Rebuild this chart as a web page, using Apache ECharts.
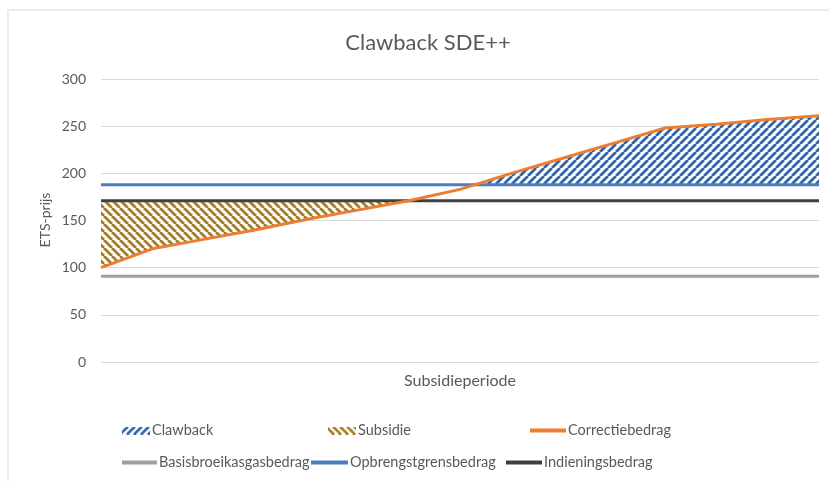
<!DOCTYPE html>
<html>
<head>
<meta charset="utf-8">
<title>Clawback SDE++</title>
<script src="https://cdn.jsdelivr.net/npm/echarts@6/dist/echarts.min.js"></script>
<style>
  html, body { margin: 0; padding: 0; background: #fff; }
  #chart { width: 829px; height: 481px; }
</style>
</head>
<body>
<div id="chart"></div>
<script>
// jaren in de subsidieperiode (x-as heeft geen labels)
var periode = [0, 1, 2, 3, 4, 5, 6, 7, 8, 9, 10, 11, 12, 13, 14];
// ETS-prijs per jaar
var correctiebedrag = [100, 120, 130, 140, 151, 161, 171, 183, 200, 216, 232, 248, 252, 257, 261];
var basisbroeikasgasbedrag = [91, 91, 91, 91, 91, 91, 91, 91, 91, 91, 91, 91, 91, 91, 91];
var opbrengstgrensbedrag = [188, 188, 188, 188, 188, 188, 188, 188, 188, 188, 188, 188, 188, 188, 188];
var indieningsbedrag = [171, 171, 171, 171, 171, 171, 171, 171, 171, 171, 171, 171, 171, 171, 171];
var yTicks = [0, 50, 100, 150, 200, 250, 300];

var FONT = 'Lato';
var GREY_TEXT = '#595959';

// arcering voor legenda-icoon: '/' of '\'
function hatch(color, up, w, h) {
  var c = document.createElement('canvas');
  c.width = w;
  c.height = h;
  var ctx = c.getContext('2d');
  ctx.fillStyle = '#fff';
  ctx.fillRect(0, 0, w, h);
  ctx.strokeStyle = color;
  ctx.lineWidth = 2.6;
  ctx.beginPath();
  for (var k = -16; k <= w + 16; k += 7) {
    if (up) { ctx.moveTo(k, h); ctx.lineTo(k + h, 0); }
    else { ctx.moveTo(k, 0); ctx.lineTo(k + h, h); }
  }
  ctx.stroke();
  return c;
}

// herhalend tegeltje voor de vlakken
function tile(color, up) {
  var c = document.createElement('canvas');
  c.width = 8; c.height = 8;
  var ctx = c.getContext('2d');
  ctx.fillStyle = '#fff';
  ctx.fillRect(0, 0, 8, 8);
  ctx.strokeStyle = color;
  ctx.lineWidth = 2.8;
  ctx.beginPath();
  for (var k = -8; k <= 8; k += 8) {
    if (up) { ctx.moveTo(k, 8); ctx.lineTo(k + 8, 0); }
    else { ctx.moveTo(k, 0); ctx.lineTo(k + 8, 8); }
  }
  ctx.stroke();
  return c;
}

var blueHatch = tile('#2F64A8', true);
var goldHatch = tile('#A67C22', false);
var blueIcon = hatch('#2F64A8', true, 28, 8).toDataURL();
var goldIcon = hatch('#A67C22', false, 28, 8).toDataURL();

// vlak tussen boven- en onderlijn, alleen waar boven > onder
function areaBetween(upper, lower, api) {
  var top = [], bot = [];
  for (var i = 0; i < periode.length; i++) {
    var d0 = upper[i] - lower[i];
    if (d0 >= 0) {
      top.push(api.coord([periode[i], upper[i]]));
      bot.push(api.coord([periode[i], lower[i]]));
    }
    if (i < periode.length - 1) {
      var d1 = upper[i + 1] - lower[i + 1];
      if ((d0 > 0 && d1 < 0) || (d0 < 0 && d1 > 0)) {
        var t = d0 / (d0 - d1);
        var x = periode[i] + t * (periode[i + 1] - periode[i]);
        var y = lower[i] + t * (lower[i + 1] - lower[i]);
        var p = api.coord([x, y]);
        top.push(p);
        bot.push(p);
      }
    }
  }
  return top.concat(bot.reverse());
}

function pairs(arr) {
  return arr.map(function (v, i) { return [periode[i], v]; });
}

var chart = echarts.init(document.getElementById('chart'));

function lineSerie(name, data, color, z) {
  return {
    name: name,
    type: 'line',
    data: pairs(data),
    showSymbol: false,
    symbol: 'none',
    z: z,
    lineStyle: { color: color, width: 3 },
    itemStyle: { color: color },
    emphasis: { disabled: true },
    animation: false
  };
}

function legendItem(name, left, top, icon, w, h) {
  return {
    data: [name],
    left: left,
    top: top,
    padding: 0,
    icon: icon,
    itemWidth: w,
    itemHeight: h,
    itemGap: 0,
    selectedMode: false,
    textStyle: { fontFamily: FONT, fontSize: 14.5, color: GREY_TEXT, padding: [0, 0, 0, -3] }
  };
}

var option = {
  backgroundColor: '#fff',
  animation: false,
  title: {
    text: 'Clawback SDE++',
    left: 423,
    top: 27,
    textAlign: 'center',
    textStyle: { fontFamily: FONT, fontSize: 22, fontWeight: 'normal', color: GREY_TEXT }
  },
  graphic: [{
    type: 'rect',
    shape: { x: 8, y: 10, width: 840, height: 490 },
    style: { fill: 'none', stroke: '#d9d9d9', lineWidth: 1 },
    silent: true
  }, {
    // titel y-as
    type: 'text',
    x: 45,
    y: 220,
    rotation: Math.PI / 2,
    style: {
      text: 'ETS-prijs',
      fontFamily: FONT,
      fontSize: 14,
      fill: GREY_TEXT,
      align: 'center',
      verticalAlign: 'middle'
    },
    silent: true
  }],
  legend: [
    legendItem('Clawback', 122, 423, 'image://' + blueIcon, 28, 8),
    legendItem('Subsidie', 328, 423, 'image://' + goldIcon, 28, 8),
    legendItem('Correctiebedrag', 530, 423, 'rect', 36, 4),
    legendItem('Basisbroeikasgasbedrag', 122, 455, 'rect', 35, 4),
    legendItem('Opbrengstgrensbedrag', 311, 455, 'rect', 37, 4),
    legendItem('Indieningsbedrag', 506, 455, 'rect', 36, 4)
  ],
  grid: { left: 101, right: 10, top: 79, bottom: 119, containLabel: false },
  xAxis: {
    type: 'value',
    min: periode[0],
    max: periode[periode.length - 1],
    name: 'Subsidieperiode',
    nameLocation: 'middle',
    nameGap: 11,
    nameTextStyle: { fontFamily: FONT, fontSize: 16, color: GREY_TEXT },
    axisLine: { show: false },
    axisTick: { show: false },
    axisLabel: { show: false },
    splitLine: { show: false }
  },
  yAxis: {
    type: 'value',
    min: yTicks[0],
    max: yTicks[yTicks.length - 1],
    interval: yTicks[1] - yTicks[0],
    axisLine: { show: false },
    axisTick: { show: false },
    axisLabel: { margin: 15, fontFamily: FONT, fontSize: 14, color: GREY_TEXT },
    splitLine: { lineStyle: { color: '#d9d9d9', width: 1 } }
  },
  series: [
    {
      name: 'Clawback',
      type: 'custom',
      z: 1,
      data: [[periode[0], 0]],
      itemStyle: { color: '#2F64A8' },
      renderItem: function (params, api) {
        return {
          type: 'polygon',
          shape: { points: areaBetween(correctiebedrag, opbrengstgrensbedrag, api) },
          style: { fill: { image: blueHatch, repeat: 'repeat' }, stroke: null }
        };
      },
      silent: true
    },
    {
      name: 'Subsidie',
      type: 'custom',
      z: 1,
      data: [[periode[0], 0]],
      itemStyle: { color: '#A67C22' },
      renderItem: function (params, api) {
        return {
          type: 'polygon',
          shape: { points: areaBetween(indieningsbedrag, correctiebedrag, api) },
          style: { fill: { image: goldHatch, repeat: 'repeat' }, stroke: null }
        };
      },
      silent: true
    },
    lineSerie('Basisbroeikasgasbedrag', basisbroeikasgasbedrag, '#A0A0A0', 3),
    lineSerie('Opbrengstgrensbedrag', opbrengstgrensbedrag, '#4A7EC2', 3),
    lineSerie('Indieningsbedrag', indieningsbedrag, '#404040', 3),
    lineSerie('Correctiebedrag', correctiebedrag, '#ED7D31', 4)
  ]
};

chart.setOption(option);
</script>
</body>
</html>
